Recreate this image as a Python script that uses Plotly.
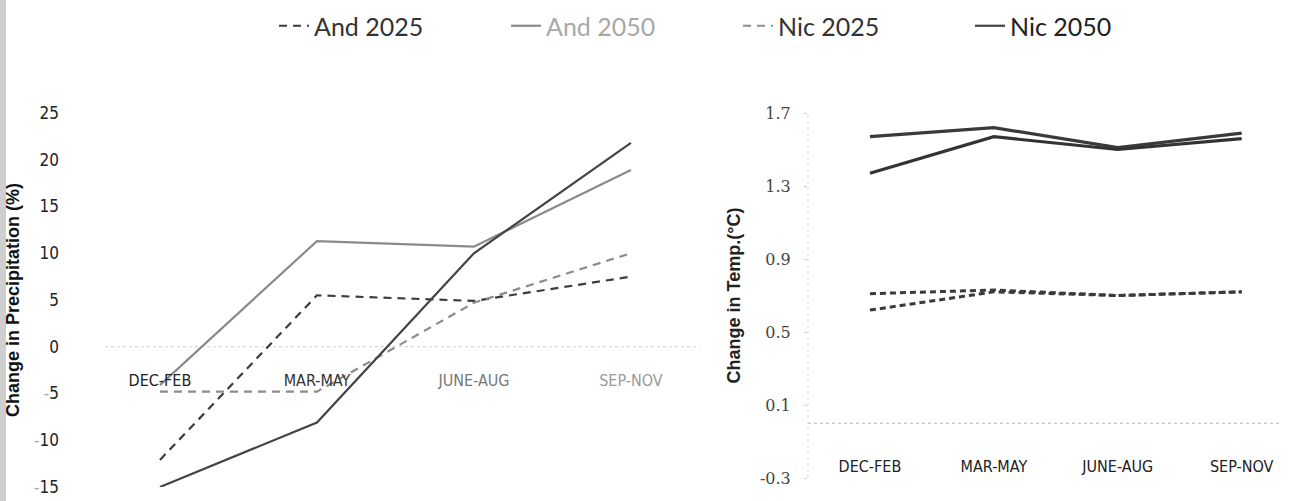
import plotly.graph_objects as go

# Seasons on the category axis
seasons = ["DEC-FEB", "MAR-MAY", "JUNE-AUG", "SEP-NOV"]

# Change in precipitation (%)
precip_and_2025 = [-12.1, 5.5, 4.9, 7.5]
precip_and_2050 = [-4.1, 11.3, 10.7, 18.9]
precip_nic_2025 = [-4.8, -4.8, 4.7, 10.0]
precip_nic_2050 = [-15.0, -8.1, 10.0, 21.8]

# Change in temperature (°C)
temp_and_2025 = [0.71, 0.73, 0.70, 0.72]
temp_and_2050 = [1.57, 1.62, 1.51, 1.59]
temp_nic_2025 = [0.62, 0.72, 0.70, 0.72]
temp_nic_2050 = [1.37, 1.57, 1.50, 1.56]

precip_ticks = [-15, -10, -5, 0, 5, 10, 15, 20, 25]
temp_ticks = [-0.3, 0.1, 0.5, 0.9, 1.3, 1.7]

W, H = 1290, 501


def px_x(p):
    return p / W


def px_y(p):
    return 1 - p / H


NARROW = "Liberation Sans Narrow, DejaVu Sans Condensed, Roboto, sans-serif"

series = [
    # name, legend text colour, left values, right values, left style, right style
    ("And 2025", "#333333", precip_and_2025, temp_and_2025,
     dict(color="#3c3c3c", width=2.2, dash="8px,6px"),
     dict(color="#3a3a3a", width=3, dash="6px,4px")),
    ("And 2050", "#a8a8a8", precip_and_2050, temp_and_2050,
     dict(color="#8a8a8a", width=2.2, dash="solid"),
     dict(color="#3a3a3a", width=3.2, dash="solid")),
    ("Nic 2025", "#333333", precip_nic_2025, temp_nic_2025,
     dict(color="#8c8c8c", width=2.2, dash="8px,6px"),
     dict(color="#3a3a3a", width=3, dash="6px,4px")),
    ("Nic 2050", "#222222", precip_nic_2050, temp_nic_2050,
     dict(color="#444444", width=2.2, dash="solid"),
     dict(color="#333333", width=3.2, dash="solid")),
]

fig = go.Figure()

for name, txtcol, left_vals, right_vals, lstyle, rstyle in series:
    fig.add_trace(go.Scatter(
        x=seasons, y=left_vals, mode="lines", line=lstyle,
        name=f"<span style='color:{txtcol}'>{name}</span>",
        legendgroup=name, xaxis="x", yaxis="y",
    ))
    fig.add_trace(go.Scatter(
        x=seasons, y=right_vals, mode="lines", line=rstyle,
        name=name, legendgroup=name, showlegend=False,
        xaxis="x2", yaxis="y2",
    ))

left_ticktext = [
    "<span style='color:#222'>DEC-FEB</span>",
    "<span style='color:#333'>MAR-MAY</span>",
    "<span style='color:#777'>JUNE-AUG</span>",
    "<span style='color:#999'>SEP-NOV</span>",
]

precip_ticktext = [
    (f"<span style='color:#aaa'>-</span>{abs(v)}" if v < 0 else str(v))
    for v in precip_ticks
]

fig.update_layout(
    width=W, height=H,
    margin=dict(l=0, r=0, t=0, b=0, autoexpand=False),
    paper_bgcolor="white", plot_bgcolor="white",
    showlegend=True,
    legend=dict(
        orientation="h", x=px_x(274), y=px_y(26), xanchor="left", yanchor="middle",
        entrywidth=187, entrywidthmode="pixels",
        font=dict(family="Lato, sans-serif", size=25, color="#333"),
        tracegroupgap=0,
    ),
    xaxis=dict(
        domain=[px_x(105), px_x(700)], range=[-0.35, 3.44],
        type="category", anchor="free", position=px_y(369),
        showline=False, showgrid=False, zeroline=False, ticks="",
        tickvals=seasons, ticktext=left_ticktext,
        tickfont=dict(family=NARROW, size=16, color="#333"),
    ),
    yaxis=dict(
        domain=[px_y(487), px_y(113)], range=[-15, 25],
        anchor="free", position=px_x(59),
        showline=False, showgrid=False, zeroline=False, ticks="",
        tickvals=precip_ticks, ticktext=precip_ticktext,
        tickfont=dict(family=NARROW, size=17, color="#222"),
        title=dict(text="<b>Change in Precipitation (%)</b>", standoff=8,
                   font=dict(family="Liberation Sans, Arial, sans-serif", size=18, color="#111")),
    ),
    xaxis2=dict(
        domain=[px_x(808), 1.0], range=[-0.5, 3.39],
        type="category", anchor="free", position=px_y(455),
        showline=False, showgrid=False, zeroline=False, ticks="",
        tickfont=dict(family=NARROW, size=16, color="#222"),
    ),
    yaxis2=dict(
        domain=[px_y(478), px_y(113)], range=[-0.3, 1.7],
        anchor="x2", showline=False, showgrid=False, zeroline=False,
        ticks="outside", ticklen=3, tickcolor="#cccccc",
        tickvals=temp_ticks, ticktext=[f"{v:.1f}" for v in temp_ticks],
        ticklabelstandoff=10,
        tickfont=dict(family="DejaVu Serif, Liberation Serif, serif", size=16, color="#444"),
        title=dict(text="<b>Change in Temp.(°C)</b>", standoff=14,
                   font=dict(family="Liberation Sans, Arial, sans-serif", size=18, color="#222")),
    ),
    shapes=[
        # dotted zero lines on both panels
        dict(type="line", xref="x domain", yref="y", x0=0, x1=1, y0=0, y1=0,
             line=dict(color="#d0d0d0", width=1.2, dash="dot"), layer="below"),
        dict(type="line", xref="x2 domain", yref="y2", x0=0, x1=0.98, y0=0, y1=0,
             line=dict(color="#b8b8b8", width=1.2, dash="dot"), layer="below"),
        # faint dotted value axis on the temperature panel
        dict(type="line", xref="x2 domain", yref="y2 domain", x0=0, x1=0, y0=0, y1=1,
             line=dict(color="#d8d8d8", width=1, dash="dot"), layer="below"),
        # grey edge strip along the left border
        dict(type="rect", xref="paper", yref="paper", x0=0, x1=px_x(6), y0=0, y1=1,
             fillcolor="#cfcfcf", line=dict(width=0), layer="below"),
    ],
)

fig.write_html("out.html")
